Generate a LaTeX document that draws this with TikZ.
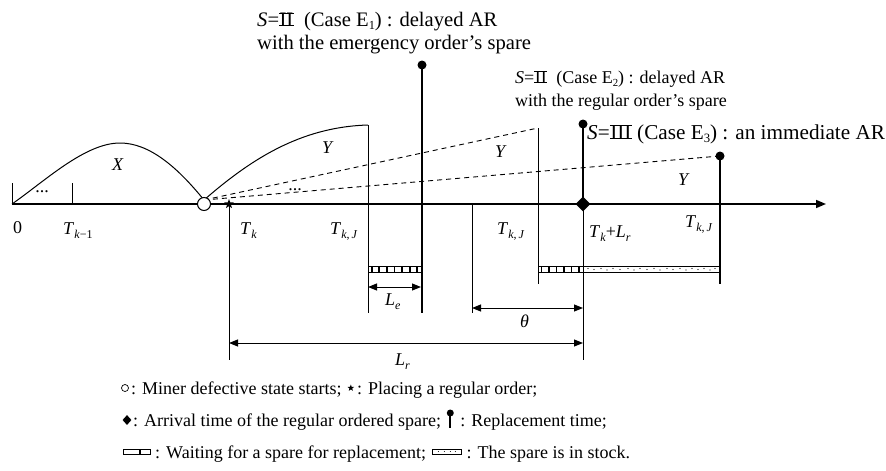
\documentclass[tikz,border=0pt]{standalone}
\usepackage{fontspec}
\setmainfont{Liberation Serif}
\usetikzlibrary{arrows.meta,shapes.geometric}
\newcommand\sbs[1]{\raisebox{-4pt}{\fontsize{12}{12}\selectfont #1}}
\newcommand\esb[1]{\raisebox{-0.18em}{\fontsize{0.6em}{0.6em}\selectfont #1}}
\newcommand\romnum[1]{\setbox0\hbox{\kern0.5pt#1\kern0.5pt}%
  \rlap{\rule[0pt]{\wd0}{1pt}}\rlap{\rule[\dimexpr\ht0-1pt]{\wd0}{1pt}}\box0}
\begin{document}
\begin{tikzpicture}[x=1pt,y=-1pt,
  lbl/.style={font=\fontsize{18}{21}\selectfont, inner sep=0pt, anchor=base west},
  lblbig/.style={font=\fontsize{20.6}{24}\selectfont, inner sep=0pt, anchor=base west},
  lblbigger/.style={font=\fontsize{21.2}{24}\selectfont, inner sep=0pt, anchor=base west},
  axisln/.style={line width=1.6pt, -{Triangle[length=10pt,width=8pt]}},
  thinln/.style={line width=0.9pt},
  thickln/.style={line width=2.6pt},
  curveln/.style={line width=1pt},
  dashln/.style={line width=0.9pt, dash pattern=on 5pt off 4pt},
  dimarr/.style={line width=1pt, {Triangle[length=9pt,width=7pt]}-{Triangle[length=9pt,width=7pt]}},
  pinhead/.style={circle, fill, inner sep=0pt, minimum size=9pt},
  defcirc/.style={circle, draw, fill=white, inner sep=0pt, minimum size=13pt, line width=1pt},
  ordstar/.style={star, star points=5, star point ratio=2.4, fill, inner sep=0pt, minimum size=10pt},
  arrdia/.style={diamond, fill, inner sep=0pt, minimum width=15pt, minimum height=15pt},
  barbox/.style={line width=0.8pt},
  tick/.style={line width=1.8pt},
  dots/.style={font=\fontsize{18}{18}\selectfont, inner sep=0pt}
]
\useasboundingbox (0,0) rectangle (886,471);

% ---- axis
\coordinate (o) at (12,204);
\coordinate (axend) at (826,204);
\coordinate (o0) at (12,183);
\coordinate (tk1) at (72,204);
\coordinate (tk1t) at (72,183);
\draw[axisln] (o) -- (axend);
\draw[thinln] (o) -- (o0);
\draw[thinln] (tk1) -- (tk1t);

% ---- curves
\coordinate (xpk) at (120,143);
\coordinate (cc) at (204,200);
\coordinate (ytop) at (368,125);
\draw[curveln] (o) .. controls (45,181) and (85,143) .. (xpk)
   .. controls (150,143) and (178,168) .. (cc);
\draw[curveln] (cc) .. controls (250,160) and (300,127) .. (ytop);

% dashed continuations
\coordinate (d1) at (538,128);
\coordinate (d2) at (720,156);
\draw[dashln] (cc) -- (d1);
\draw[dashln] (cc) -- (d2);

% ---- vertical lines
\coordinate (v1b) at (368,313);
\draw[thinln] (ytop) -- (v1b);
\coordinate (v2t) at (472,204);
\coordinate (v2b) at (472,313);
\draw[thinln] (v2t) -- (v2b);
\coordinate (v3b) at (538,284);
\draw[thinln] (d1) -- (v3b);
\coordinate (stb) at (229,360);
\coordinate (dmb) at (583,360);

% pins
\node[pinhead] (p1) at (422,65) {};
\coordinate (p1b) at (422,313);
\draw[thickln] (p1.center) -- (p1b);
\node[pinhead] (p2) at (583,124) {};
\node[pinhead] (p3) at (720,156) {};
\coordinate (p3b) at (720,284);
\draw[thickln] (p3.center) -- (p3b);

% markers on axis
\draw[thinln] (229,204) -- (stb);
\node[ordstar] (st) at (229,204) {};
\node[arrdia] (dm) at (583,204) {};
\draw[thickln] (p2.center) -- (dm.center);
\draw[thinln] (dm.center) -- (dmb);
\node[defcirc] (c) at (204,204) {};

% ---- bars
\draw[barbox] (368,266) rectangle (421,272);
\foreach \i in {0,...,6} \draw[tick] ({371.8+7.57*\i},266) -- ({371.8+7.57*\i},272);
\draw[barbox] (538,266) rectangle (720,272);
\foreach \i in {0,...,5} \draw[tick] ({541.5+7.5*\i},266) -- ({541.5+7.5*\i},272);
\foreach \x/\y in {588/268.5,594/269.5,601/268.5,607/270,613/268.5,620/269.5,628/268.5,634/270,640/268.5,
   647/269.5,654/268.5,660/270,667/268.5,673/269.5,680/268.5,686/270,692/268.5,698/269.5,704/268.5,710/270,715/268.5}
   \fill (\x,\y) circle (0.6pt);

% ---- dimension arrows
\coordinate (le1) at (368,287);
\coordinate (le2) at (421,287);
\draw[dimarr] (le1) -- (le2);
\coordinate (th1) at (472,308);
\coordinate (th2) at (583,308);
\draw[dimarr] (th1) -- (th2);
\coordinate (lr1) at (229,343);
\coordinate (lr2) at (583,343);
\draw[dimarr] (lr1) -- (lr2);

% ---- dots
\node[dots] (dots1) at (42,192) {...};
\node[dots] (dots2) at (295,190) {...};

% ---- labels
\node[lbl] (lx) at (112,170) {\textit{X}};
\node[lbl] (ly1) at (322,153) {\textit{Y}};
\node[lbl] (ly2) at (495,157) {\textit{Y}};
\node[lbl] (ly3) at (678,185) {\textit{Y}};
\node[lbl] (l0) at (13,233) {0};
\node[lbl] (ltk1) at (63,234) {\textit{T}\sbs{\textit{k}−1}};
\node[lbl] (ltk) at (240,234) {\textit{T}\sbs{\textit{k}}};
\node[lbl] (ltkj1) at (330,234) {\textit{T}\sbs{\textit{k},\,\textit{J}}};
\node[lbl] (ltkj2) at (497,234) {\textit{T}\sbs{\textit{k},\,\textit{J}}};
\node[lbl] (ltkj3) at (685,227) {\textit{T}\sbs{\textit{k},\,\textit{J}}};
\node[lbl] (ltklr) at (589,237) {\textit{T}\sbs{\textit{k}}+\textit{L}\sbs{\textit{r}}};
\node[lbl] (lle) at (385,305) {\textit{L}\sbs{\textit{e}}};
\node[lbl] (lth) at (520,327) {\textit{θ}};
\node[lbl] (llr) at (395,365) {\textit{L}\sbs{\textit{r}}};

% ---- case texts
\node[lblbig] (e1a) at (257,26) {\textit{S}=\romnum{II}\ \ (Case E\esb{1}) : delayed AR};
\node[lblbig] (e1b) at (257,49) {with the emergency order’s spare};
\node[lbl] (e2a) at (515,83) {\textit{S}=\romnum{II}\ \ (Case E\esb{2}) : delayed AR};
\node[lbl] (e2b) at (515,106) {with the regular order’s spare};
\node[lblbigger] (e3a) at (587,139) {\textit{S}=\romnum{III}\ (Case E\esb{3}) : an immediate AR};

% ---- legend
\node[circle, draw, line width=0.7pt, inner sep=0pt, minimum size=7pt] (g1) at (125,388) {};
\node[lbl] (g1t) at (131,394) {: Miner defective state starts;};
\node[star, star points=5, star point ratio=2.4, fill, inner sep=0pt, minimum size=7pt] (g2) at ([xshift=9pt]g1t.east |- g1) {};
\node[lbl] (g2t) at ([xshift=6pt]g2.center |- g1t.base) {: Placing a regular order;};

\node[diamond, fill, inner sep=0pt, minimum width=9pt, minimum height=10pt] (g3) at (127,420) {};
\node[lbl] (g3t) at (133,426) {: Arrival time of the regular ordered spare;};
\node[circle, fill, inner sep=0pt, minimum size=7pt] (g4) at ([xshift=9pt]g3t.east |- 0,413) {};
\coordinate (g4b) at ([yshift=-15pt]g4.center);
\draw[line width=1.6pt] (g4.center) -- (g4b);
\node[lbl] (g4t) at ([xshift=10pt]g4.center |- g3t.base) {: Replacement time;};

\draw[barbox] (123,449) rectangle (150,454);
\draw[tick] (140,449) -- (140,454);
\coordinate (g5) at (150,452);
\node[lbl] (g5t) at (155,458) {: Waiting for a spare for replacement;};
\draw[barbox] ([xshift=6pt]g5t.east |- 0,449) rectangle ([xshift=35pt]g5t.east |- 0,454);
\foreach \d in {12,18,24,29} \fill ([xshift=\d pt]g5t.east |- 0,451.5) circle (0.5pt);
\node[lbl] (g6t) at ([xshift=40pt]g5t.east |- g5t.base) {: The spare is in stock.};
\end{tikzpicture}
\end{document}
